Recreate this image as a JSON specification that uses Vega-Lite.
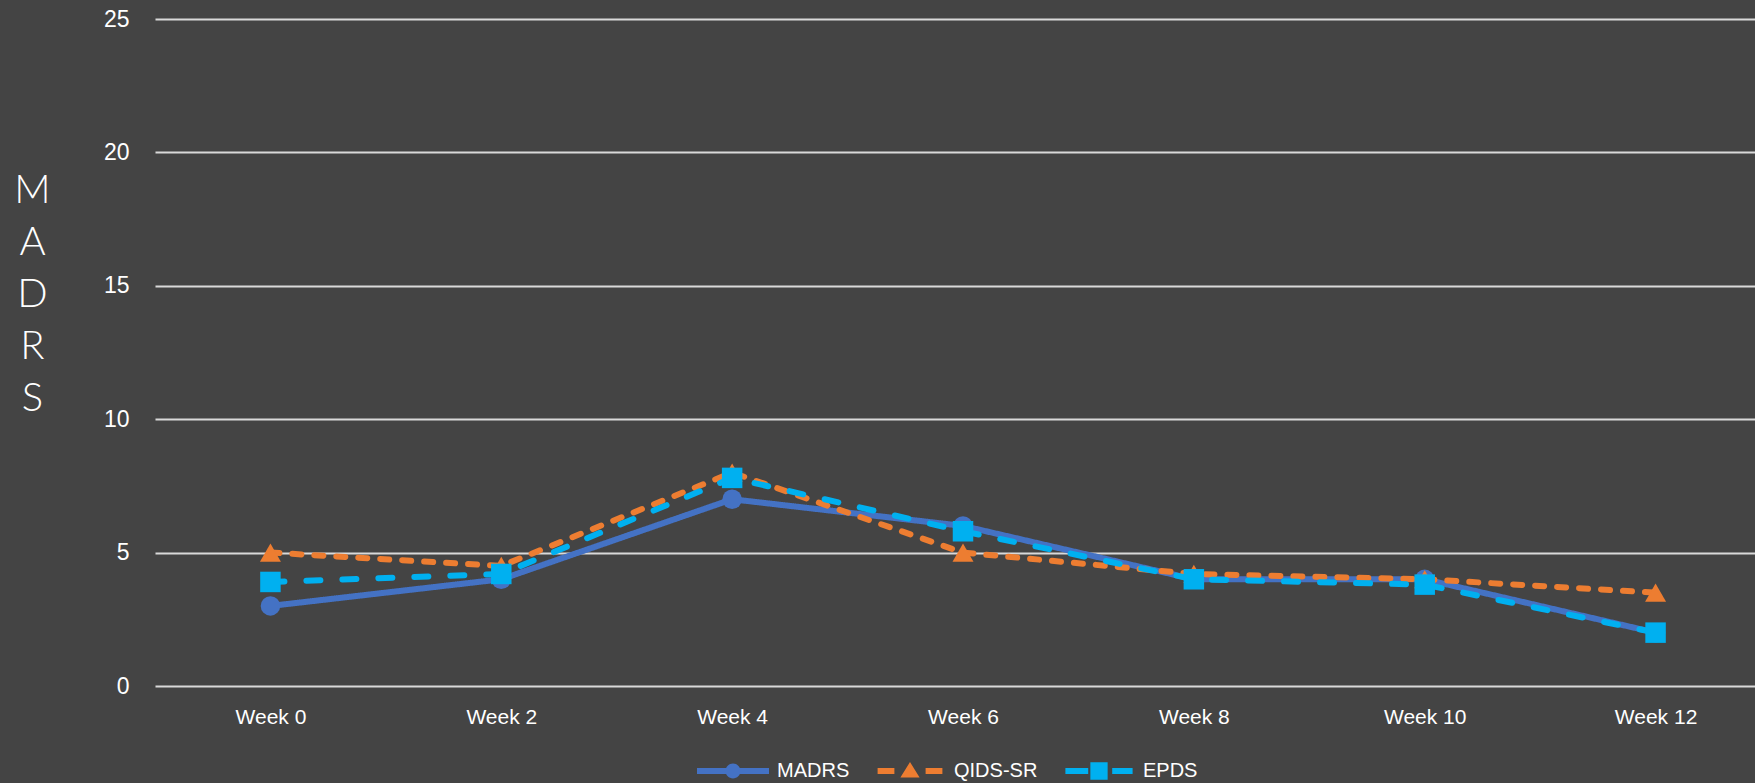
{
  "$schema": "https://vega.github.io/schema/vega-lite/v6.json",
  "autosize": {"type": "none"},
  "width": 1600,
  "height": 667,
  "padding": {"left": 155, "top": 19, "right": 0, "bottom": 97},
  "background": "#444444",
  "config": {
    "view": {"stroke": null},
    "axis": {"domain": false, "ticks": false}
  },
  "data": {
    "values": [
      {"week": "Week 0", "series": "MADRS", "value": 3},
      {"week": "Week 2", "series": "MADRS", "value": 4},
      {"week": "Week 4", "series": "MADRS", "value": 7},
      {"week": "Week 6", "series": "MADRS", "value": 6},
      {"week": "Week 8", "series": "MADRS", "value": 4},
      {"week": "Week 10", "series": "MADRS", "value": 4},
      {"week": "Week 12", "series": "MADRS", "value": 2},
      {"week": "Week 0", "series": "QIDS-SR", "value": 5},
      {"week": "Week 2", "series": "QIDS-SR", "value": 4.5},
      {"week": "Week 4", "series": "QIDS-SR", "value": 8},
      {"week": "Week 6", "series": "QIDS-SR", "value": 5},
      {"week": "Week 8", "series": "QIDS-SR", "value": 4.2},
      {"week": "Week 10", "series": "QIDS-SR", "value": 4},
      {"week": "Week 12", "series": "QIDS-SR", "value": 3.5},
      {"week": "Week 0", "series": "EPDS", "value": 3.9},
      {"week": "Week 2", "series": "EPDS", "value": 4.2},
      {"week": "Week 4", "series": "EPDS", "value": 7.8},
      {"week": "Week 6", "series": "EPDS", "value": 5.8},
      {"week": "Week 8", "series": "EPDS", "value": 4},
      {"week": "Week 10", "series": "EPDS", "value": 3.8},
      {"week": "Week 12", "series": "EPDS", "value": 2}
    ]
  },
  "encoding": {
    "x": {
      "field": "week", "type": "ordinal",
      "sort": ["Week 0", "Week 2", "Week 4", "Week 6", "Week 8", "Week 10", "Week 12"],
      "scale": {"type": "point", "padding": 0.5, "range": [0, 1616]},
      "axis": {
        "title": null, "labelAngle": 0, "grid": false,
        "labelFont": "Liberation Sans", "labelFontSize": 21, "labelColor": "#FFFFFF",
        "labelPadding": 20
      }
    },
    "y": {
      "field": "value", "type": "quantitative",
      "scale": {"domain": [0, 25]},
      "axis": {
        "values": [0, 5, 10, 15, 20, 25],
        "grid": true, "gridColor": "#D9D9D9", "gridWidth": 2,
        "labelFont": "Liberation Sans", "labelFontSize": 23, "labelColor": "#FFFFFF",
        "labelPadding": 26,
        "title": ["M", "A", "D", "R", "S"],
        "titleAngle": 0, "titleAlign": "center", "titleBaseline": "top",
        "titleX": -123, "titleY": 151,
        "titleFont": "Lato", "titleFontWeight": 300, "titleFontSize": 40,
        "titleLineHeight": 52, "titleColor": "#FFFFFF"
      }
    },
    "color": {
      "field": "series", "type": "nominal",
      "scale": {"domain": ["MADRS", "QIDS-SR", "EPDS"], "range": ["#4472C4", "#ED7D31", "#00B0F0"]},
      "legend": {
        "title": null, "orient": "none", "direction": "horizontal",
        "legendX": 566, "legendY": 740, "padding": 0,
        "symbolSize": 576, "symbolOpacity": 1, "symbolStrokeWidth": 0,
        "labelFont": "Liberation Sans", "labelFontSize": 20, "labelColor": "#FFFFFF",
        "labelOffset": 32, "columnPadding": 27,
        "encode": {
          "symbols": {
            "update": {
              "shape": {"signal": "datum.value === 'MADRS' ? 'M-3,-0.25H-0.5V0.25H-3Z M0.5,-0.25H3V0.25H0.5Z M0.62,0A0.62,0.62,0,1,1,-0.62,0A0.62,0.62,0,1,1,0.62,0Z' : datum.value === 'QIDS-SR' ? 'M-2.7,-0.25H-1.3V0.25H-2.7Z M1.3,-0.25H2.7V0.25H1.3Z M-0.8,0.55L0,-0.75L0.8,0.55Z' : 'M-2.8,-0.25H-0.9V0.25H-2.8Z M1.1,-0.25H2.8V0.25H1.1Z M-0.72,-0.72H0.72V0.72H-0.72Z'"},
              "fill": {"signal": "scale('color', datum.value)"},
              "stroke": {"value": "transparent"},
              "opacity": {"value": 1}
            }
          }
        }
      }
    }
  },
  "layer": [
    {
      "mark": {"type": "line", "strokeWidth": 6, "strokeCap": "round", "strokeJoin": "round"},
      "encoding": {
        "strokeDash": {
          "field": "series", "type": "nominal",
          "scale": {"domain": ["MADRS", "QIDS-SR", "EPDS"], "range": [[1, 0], [9, 13], [14, 22]]},
          "legend": null
        }
      }
    },
    {
      "transform": [{"filter": "datum.series === 'MADRS'"}],
      "mark": {"type": "point", "shape": "circle", "filled": true, "opacity": 1, "size": 380, "strokeWidth": 0}
    },
    {
      "transform": [{"filter": "datum.series === 'QIDS-SR'"}],
      "mark": {"type": "point", "shape": "triangle-up", "filled": true, "opacity": 1, "size": 440, "strokeWidth": 0}
    },
    {
      "transform": [{"filter": "datum.series === 'EPDS'"}],
      "mark": {"type": "point", "shape": "square", "filled": true, "opacity": 1, "size": 420, "strokeWidth": 0}
    }
  ]
}
